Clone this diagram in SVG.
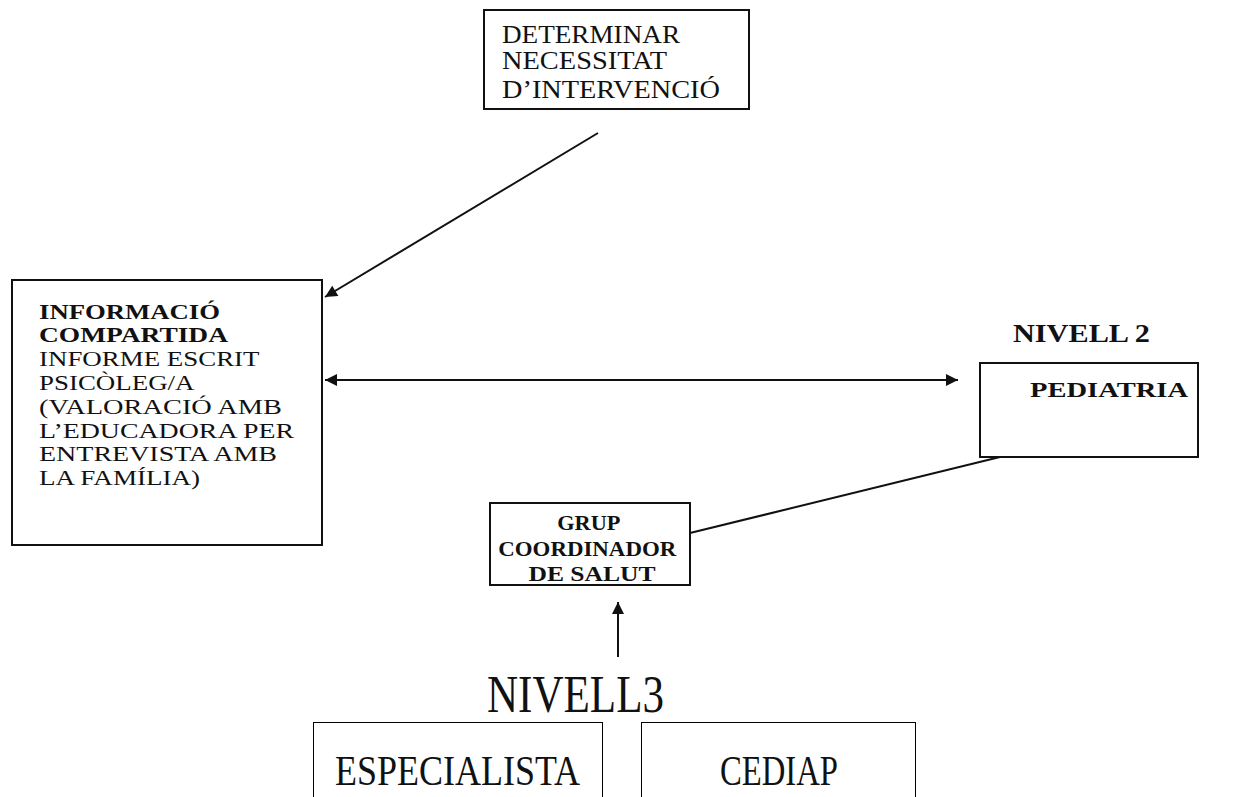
<svg xmlns="http://www.w3.org/2000/svg" width="1241" height="797" viewBox="0 0 1241 797">
<style>
.box{fill:#fff;stroke:#111;stroke-width:2}
.thin{fill:#fff;stroke:#000;stroke-width:1}
.t{font-family:"Liberation Serif","Times New Roman",serif;fill:#111}
.b{font-weight:bold}
.line{stroke:#111;stroke-width:2;fill:none}
</style>
<defs>
<marker id="ah2" viewBox="0 0 10 10" refX="10" refY="5" markerWidth="17" markerHeight="12" markerUnits="userSpaceOnUse" orient="auto-start-reverse">
<path d="M0,0 L10,5 L0,10 z" fill="#111"/>
</marker>
</defs>
<rect width="1241" height="797" fill="#fff"/>
<g id="connectors">
<line class="line" x1="598" y1="133" x2="325" y2="297" marker-end="url(#ah2)"/>
<line class="line" x1="325" y1="380" x2="958" y2="380" marker-start="url(#ah2)" marker-end="url(#ah2)"/>
<line class="line" x1="1000" y1="457" x2="690" y2="533"/>
<line class="line" x1="618" y1="657" x2="618" y2="602" marker-end="url(#ah2)"/>
</g>
<g id="node-determinar">
<rect class="box" x="484" y="10" width="265" height="99"/>
<text class="t" font-size="25"><tspan x="502" y="43" textLength="178" lengthAdjust="spacingAndGlyphs">DETERMINAR</tspan><tspan x="502" y="69" textLength="165" lengthAdjust="spacingAndGlyphs">NECESSITAT</tspan><tspan x="502" y="98" textLength="218" lengthAdjust="spacingAndGlyphs">D’INTERVENCIÓ</tspan></text>
</g>
<g id="node-informacio">
<rect class="box" x="12" y="280" width="310" height="265"/>
<text class="t" font-size="22">
<tspan class="b" x="39" y="319" textLength="181" lengthAdjust="spacingAndGlyphs">INFORMACIÓ</tspan>
<tspan class="b" x="39" y="342" textLength="189" lengthAdjust="spacingAndGlyphs">COMPARTIDA</tspan>
<tspan x="39" y="366" textLength="220" lengthAdjust="spacingAndGlyphs">INFORME ESCRIT</tspan>
<tspan x="39" y="390" textLength="154" lengthAdjust="spacingAndGlyphs">PSICÒLEG/A</tspan>
<tspan x="39" y="414" textLength="243" lengthAdjust="spacingAndGlyphs">(VALORACIÓ AMB</tspan>
<tspan x="39" y="438" textLength="255" lengthAdjust="spacingAndGlyphs">L’EDUCADORA PER</tspan>
<tspan x="39" y="461" textLength="238" lengthAdjust="spacingAndGlyphs">ENTREVISTA AMB</tspan>
<tspan x="39" y="485" textLength="161" lengthAdjust="spacingAndGlyphs">LA FAMÍLIA)</tspan>
</text>
</g>
<g id="node-nivell2">
<text class="t b" font-size="25" x="1013" y="342" textLength="137" lengthAdjust="spacingAndGlyphs">NIVELL 2</text>
</g>
<g id="node-pediatria">
<rect class="box" x="980" y="363" width="218" height="94"/>
<text class="t b" font-size="21" x="1030" y="397" textLength="158" lengthAdjust="spacingAndGlyphs">PEDIATRIA</text>
</g>
<g id="node-grup">
<rect class="box" x="490" y="503" width="200" height="82"/>
<text class="t b" font-size="22" text-anchor="middle">
<tspan x="591" y="530" textLength="62" lengthAdjust="spacingAndGlyphs">GRUP</tspan>
<tspan x="590" y="556" textLength="178" lengthAdjust="spacingAndGlyphs">COORDINADOR</tspan>
<tspan x="592" y="581" textLength="127" lengthAdjust="spacingAndGlyphs">DE SALUT</tspan>
</text>
</g>
<g id="node-nivell3">
<text class="t" font-size="52" x="487" y="712" textLength="177" lengthAdjust="spacingAndGlyphs">NIVELL3</text>
</g>
<g id="node-especialista">
<rect class="thin" x="313.5" y="722.5" width="289" height="90"/>
<text class="t" font-size="42" x="335" y="785" textLength="245" lengthAdjust="spacingAndGlyphs">ESPECIALISTA</text>
</g>
<g id="node-cediap">
<rect class="thin" x="641.5" y="722.5" width="274" height="90"/>
<text class="t" font-size="42" x="720" y="785" textLength="118" lengthAdjust="spacingAndGlyphs">CEDIAP</text>
</g>
</svg>
